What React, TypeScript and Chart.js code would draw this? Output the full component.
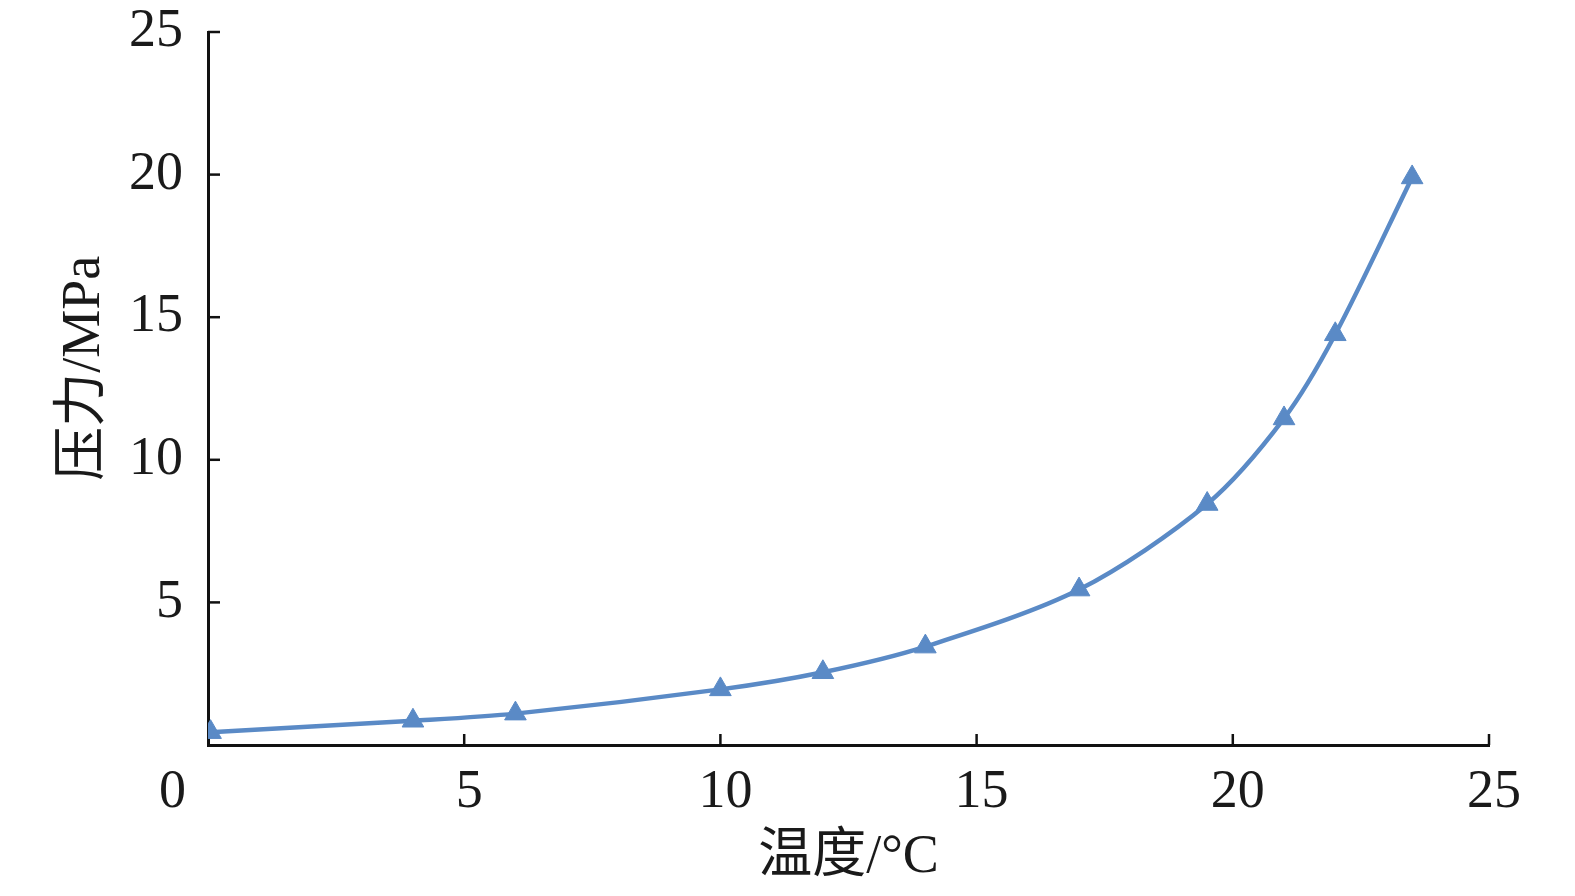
import React, { useEffect, useRef } from 'react';
import { Chart, registerables } from 'chart.js';

Chart.register(...registerables);

// Data
const temperature = [0.05, 4, 6, 10, 12, 14, 17, 19.5, 21, 22, 23.5];
const pressure = [0.45, 0.85, 1.1, 1.95, 2.55, 3.45, 5.45, 8.45, 11.45, 14.4, 19.9];
const xTickValues = [0, 5, 10, 15, 20, 25];
const yTickValues = [0, 5, 10, 15, 20, 25];
const xTitle = '温度/°C';
const yTitle = '压力/MPa';

const FONT = "'Liberation Serif', 'Noto Sans CJK SC', serif";
const LINE_COLOR = '#5A8AC6';

const innerTicks = {
  id: 'innerTicks',
  beforeDatasetsDraw(chart: any) {
    const { ctx, chartArea, scales } = chart;
    ctx.save();
    ctx.strokeStyle = '#111';
    ctx.lineWidth = 2.5;
    const xs = scales.x;
    xs.ticks.forEach((t: any) => {
      if (t.value === 0) return;
      const px = xs.getPixelForValue(t.value);
      ctx.beginPath();
      ctx.moveTo(px, chartArea.bottom);
      ctx.lineTo(px, chartArea.bottom - 11);
      ctx.stroke();
    });
    const ys = scales.y;
    ys.ticks.forEach((t: any) => {
      if (t.value === 0) return;
      const py = ys.getPixelForValue(t.value);
      ctx.beginPath();
      ctx.moveTo(chartArea.left, py);
      ctx.lineTo(chartArea.left + 12, py);
      ctx.stroke();
    });
    ctx.restore();
  },
};

export default function App() {
  const ref = useRef<HTMLCanvasElement | null>(null);

  useEffect(() => {
    if (!ref.current) return;
    const points = temperature.map((t, i) => ({ x: t, y: pressure[i] }));
    const chart = new Chart(ref.current, {
      type: 'scatter',
      data: {
        datasets: [
          {
            data: points,
            showLine: true,
            borderColor: LINE_COLOR,
            backgroundColor: LINE_COLOR,
            borderWidth: 4.5,
            tension: 0.3,
            pointStyle: 'triangle',
            pointRadius: 12.5,
            pointBorderWidth: 1,
            pointBackgroundColor: LINE_COLOR,
            pointBorderColor: LINE_COLOR,
          },
        ],
      },
      options: {
        responsive: false,
        animation: false,
        layout: { padding: { left: 0, right: 86, top: 32, bottom: 0 } },
        plugins: { legend: { display: false }, tooltip: { enabled: false } },
        scales: {
          x: {
            type: 'linear',
            min: 0,
            max: 25,
            afterBuildTicks: (s: any) => {
              s.ticks = xTickValues.map((v) => ({ value: v }));
            },
            afterFit: (s: any) => {
              s.height = 151;
              s.paddingLeft = 0;
              s.paddingRight = 0;
            },
            grid: { display: false, drawTicks: false },
            border: { display: true, color: '#111', width: 3 },
            ticks: {
              autoSkip: false,
              maxRotation: 0,
              padding: 15,
              labelOffset: 5,
              color: '#1a1a1a',
              font: { family: FONT, size: 54 },
              callback: (v: any) => (v === 0 ? '0      ' : String(v)),
            },
            title: {
              display: true,
              text: xTitle,
              color: '#1a1a1a',
              font: { family: FONT, size: 54 },
              padding: { top: 0, bottom: 6 },
            },
          },
          y: {
            type: 'linear',
            min: 0,
            max: 25,
            afterBuildTicks: (s: any) => {
              s.ticks = yTickValues.map((v) => ({ value: v }));
            },
            afterFit: (s: any) => {
              s.width = 208;
              s.paddingTop = 0;
              s.paddingBottom = 0;
            },
            grid: { display: false, drawTicks: false },
            border: { display: true, color: '#111', width: 3 },
            ticks: {
              autoSkip: false,
              padding: 25,
              color: '#1a1a1a',
              font: { family: FONT, size: 54 },
              callback: (v: any) => (v === 0 ? '' : String(v)),
            },
            title: {
              display: true,
              text: '   ' + yTitle,
              color: '#1a1a1a',
              font: { family: FONT, size: 54 },
              padding: { top: 52, bottom: 0 },
            },
          },
        },
      },
      plugins: [innerTicks],
    });
    return () => chart.destroy();
  }, []);

  return (
    <div style={{ position: 'absolute', left: 0, top: 0, width: 1575, height: 896, background: '#fff' }}>
      <canvas ref={ref} width={1575} height={896} />
    </div>
  );
}
